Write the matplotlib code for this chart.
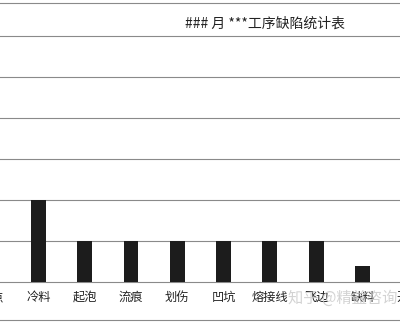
import matplotlib
matplotlib.use("Agg")
import matplotlib.pyplot as plt
from matplotlib.lines import Line2D

plt.rcParams['font.family'] = ['Noto Sans CJK SC', 'DejaVu Sans']

categories = ["黑点", "冷料", "起泡", "流痕", "划伤", "凹坑", "熔接线", "飞边", "缺料", "开裂"]
counts = [1, 2, 1, 1, 1, 1, 1, 1, 0.4, 1]
title = "### 月 ***工序缺陷统计表"
watermark = "知乎 @精益咨询"

fig = plt.figure(figsize=(4.0, 3.27), dpi=100)
ax = fig.add_axes([0, 0.1376, 1, 0.853])

x = list(range(len(categories)))
ax.bar(x, counts, width=0.32, color="#1c1c1c", zorder=3)

ax.set_yticks([1, 2, 3, 4, 5, 6])
ax.yaxis.grid(True, color="#8a8a8a", linewidth=0.8)
ax.tick_params(axis="y", left=False, labelleft=False)
ax.set_xticks([])
ax.set_xlim(0.173, 8.81)
ax.set_ylim(0, 6.8)

# category labels drawn as text so the ones cut by the edges still show
trans = ax.get_xaxis_transform()
for xi, name in zip(x, categories):
    ax.text(xi, -0.055, name, transform=trans, ha="center", va="center",
            fontsize=8.8, color="#222222", clip_on=False)

for side in ["left", "right"]:
    ax.spines[side].set_visible(False)
for side in ["top", "bottom"]:
    ax.spines[side].set_color("#8a8a8a")
    ax.spines[side].set_linewidth(0.8)

fig.text(0.663, 0.927, title, ha="center", va="center", fontsize=10, color="#222222")

# outer frame line under the labels
fig.add_artist(Line2D([0, 1], [0.021, 0.021], transform=fig.transFigure,
                      color="#8a8a8a", linewidth=0.8))

fig.text(0.72, 0.088, watermark, ha="left", va="center", fontsize=11,
         color="#c8c8c8", alpha=0.8)

fig.savefig("out.png", dpi=100)
